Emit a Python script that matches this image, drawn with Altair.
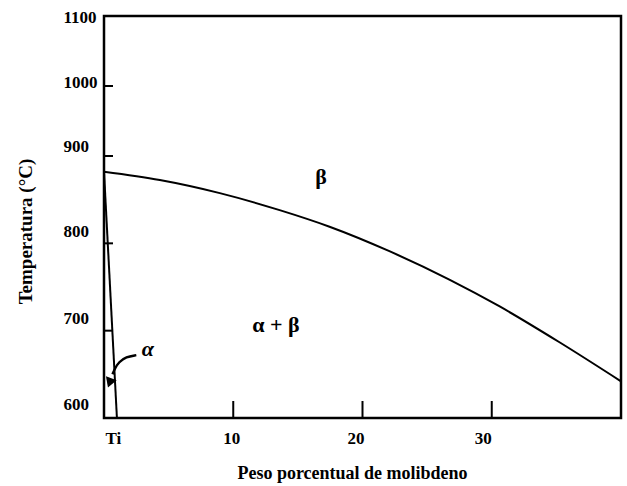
import altair as alt
import pandas as pd

# Ti–Mo phase diagram (titanium-rich side)
mo_transus = [0, 4.32, 8.96, 13.59, 17.45, 22.08, 26.72, 30.58, 35.21, 40]
t_transus = [882, 872.5, 857.5, 838, 819, 791, 758.5, 728, 687, 642]

mo_alpha = [0, 1.0]
t_alpha = [882, 600]

phase_labels = ["β", "α + β"]
phase_mo = [16.8, 13.3]
phase_t = [876, 706]

alpha_label = ["α"]
alpha_mo = [3.4]
alpha_t = [679]

arrow_mo = [2.5, 1.7, 1.15, 0.85, 0.66]
arrow_t = [672, 670, 664, 657, 650]
head_mo = [0.48]
head_t = [642]

x_ticks = [0, 10, 20, 30]
y_ticks = [600, 700, 800, 900, 1000, 1100]
x_inner_ticks = [10, 20, 30]
y_inner_ticks = [700, 800, 900, 1000]

W, H = 517, 402
FONT = "Liberation Serif"

x_scale = alt.Scale(domain=[0, 40], nice=False, zero=False)
y_scale = alt.Scale(domain=[600, 900, 1100], range=[H, 140, 0])

x_axis = alt.Axis(
    values=x_ticks,
    labelExpr="datum.value == 0 ? 'Ti' : datum.label",
    ticks=False, domain=False, grid=False,
    labelPadding=12, labelFont=FONT, labelFontWeight="bold", labelFontSize=17,
    labelColor="black",
    labelOffset={"condition": [
        {"test": "datum.value == 0", "value": 1},
        {"test": "datum.value == 10", "value": -2},
        {"test": "datum.value == 20", "value": -7}], "value": -9},
    title="Peso porcentual de molibdeno",
    titleFont=FONT, titleFontWeight="bold", titleFontSize=18, titleColor="black",
    titleX=248, titleY=60, titleAlign="center", titleBaseline="alphabetic",
)
y_axis = alt.Axis(
    values=y_ticks, format="d",
    ticks=False, domain=False, grid=False,
    labelAlign="left", labelPadding=41, labelFont=FONT, labelFontWeight="bold",
    labelFontSize=17, labelColor="black",
    labelOffset={"condition": [
        {"test": "datum.value == 1100", "value": 1},
        {"test": "datum.value == 1000", "value": -4},
        {"test": "datum.value == 900", "value": -10},
        {"test": "datum.value == 600", "value": -14}], "value": -12},
    title="Temperatura (°C)",
    titleFont=FONT, titleFontWeight="bold", titleFontSize=19, titleColor="black",
    titleX=-73, titleY=215, titleAlign="center", titleBaseline="alphabetic",
)

transus_df = pd.DataFrame({"mo": mo_transus, "t": t_transus})
alpha_df = pd.DataFrame({"mo": mo_alpha, "t": t_alpha})
label_df = pd.DataFrame({"txt": phase_labels, "mo": phase_mo, "t": phase_t})
alpha_lbl_df = pd.DataFrame({"txt": alpha_label, "mo": alpha_mo, "t": alpha_t})
arrow_df = pd.DataFrame({"mo": arrow_mo, "t": arrow_t, "o": list(range(len(arrow_mo)))})
head_df = pd.DataFrame({"mo": head_mo, "t": head_t})

transus = alt.Chart(transus_df).mark_line(
    color="black", strokeWidth=2, interpolate="monotone"
).encode(
    x=alt.X("mo:Q", scale=x_scale, axis=x_axis),
    y=alt.Y("t:Q", scale=y_scale, axis=y_axis),
)

alpha_line = alt.Chart(alpha_df).mark_line(color="black", strokeWidth=2).encode(
    x=alt.X("mo:Q", scale=x_scale), y=alt.Y("t:Q", scale=y_scale)
)

labels = alt.Chart(label_df).mark_text(
    font=FONT, fontWeight="bold", fontSize=22, color="black"
).encode(
    x=alt.X("mo:Q", scale=x_scale), y=alt.Y("t:Q", scale=y_scale), text="txt:N"
)

alpha_text = alt.Chart(alpha_lbl_df).mark_text(
    font=FONT, fontWeight="bold", fontStyle="italic", fontSize=22, color="black"
).encode(
    x=alt.X("mo:Q", scale=x_scale), y=alt.Y("t:Q", scale=y_scale), text="txt:N"
)

arrow = alt.Chart(arrow_df).mark_line(
    color="black", strokeWidth=2.5, interpolate="basis"
).encode(
    x=alt.X("mo:Q", scale=x_scale), y=alt.Y("t:Q", scale=y_scale), order="o:Q"
)

head = alt.Chart(head_df).mark_point(
    shape="triangle", filled=True, color="black", size=130, angle=200, opacity=1
).encode(x=alt.X("mo:Q", scale=x_scale), y=alt.Y("t:Q", scale=y_scale))

y_tick_marks = alt.Chart(pd.DataFrame({"t": y_inner_ticks})).mark_rule(
    color="black", strokeWidth=2
).encode(y=alt.Y("t:Q", scale=y_scale), x=alt.value(0), x2=alt.value(9))

x_tick_marks = alt.Chart(pd.DataFrame({"mo": x_inner_ticks})).mark_rule(
    color="black", strokeWidth=2
).encode(x=alt.X("mo:Q", scale=x_scale), y=alt.value(H - 17), y2=alt.value(H))

chart = alt.layer(
    transus, alpha_line, arrow, head, labels, alpha_text, y_tick_marks, x_tick_marks
).properties(
    width=W, height=H,
    background="white",
    autosize=alt.AutoSizeParams(type="none"),
    padding={"left": 104, "top": 16, "right": 6, "bottom": 68},
).configure_view(
    stroke="black", strokeWidth=2.5
)

chart.save("out.html", embed_options={"renderer": "svg", "actions": False})
